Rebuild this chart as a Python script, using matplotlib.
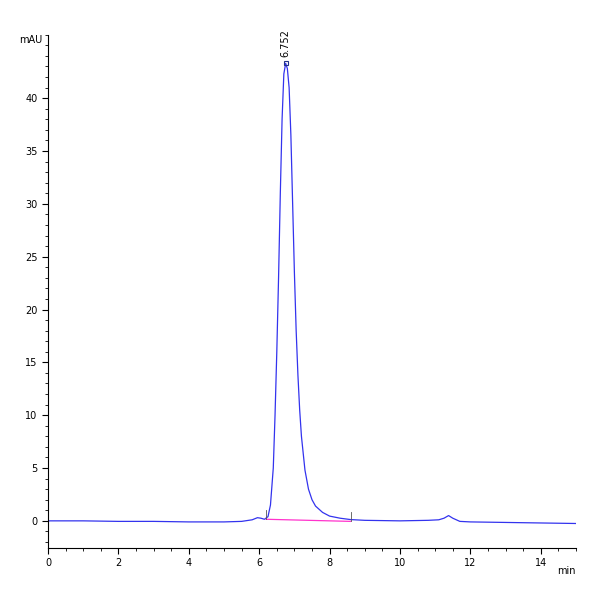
import matplotlib
matplotlib.use("Agg")
import matplotlib.pyplot as plt
from matplotlib.ticker import MultipleLocator

time = [0, 1, 2, 3, 4, 5, 5.5, 5.8, 5.95, 6.05, 6.15, 6.25, 6.32, 6.4, 6.45, 6.5, 6.55, 6.6, 6.65, 6.7, 6.752,
        6.8, 6.85, 6.9, 6.95, 7.0, 7.05, 7.1, 7.15, 7.2, 7.3, 7.4, 7.5, 7.6, 7.8, 8.0, 8.3, 8.6, 9, 10, 10.8,
        11.1, 11.25, 11.38, 11.5, 11.7, 12, 13, 14, 15]
signal = [0.0, 0.0, -0.05, -0.05, -0.1, -0.1, -0.05, 0.1, 0.3, 0.25, 0.15, 0.4, 1.5, 5, 10, 16, 23, 31, 38, 42.3, 43.3,
          42.8, 41, 36.5, 30, 23.5, 18, 13.8, 10.5, 8, 4.8, 3.0, 2.0, 1.4, 0.8, 0.45, 0.25, 0.12, 0.05, 0.0, 0.05,
          0.1, 0.25, 0.5, 0.25, -0.05, -0.1, -0.15, -0.2, -0.25]
peak_t, peak_h = 6.752, 43.3
base_t = [6.2, 8.6]
base_v = [0.15, -0.05]

fig = plt.figure(figsize=(6, 6), dpi=100)
ax = fig.add_axes([0.08, 0.087, 0.88, 0.855])
ax.plot(time, signal, color="#3333ee", lw=0.9)
ax.plot(base_t, base_v, color="#ff33cc", lw=0.9)
ax.plot([peak_t], [peak_h], marker="s", ms=3, mfc="none", mec="#223388", mew=0.8)
for bt, bv in zip(base_t, base_v):
    ax.plot([bt, bt], [bv, bv + 0.9], color="#555555", lw=0.6)
ax.text(peak_t, peak_h + 0.6, f"{peak_t:.3f}", rotation=90, ha="center", va="bottom", fontsize=7)
ax.set_xlim(0, 15)
ax.set_ylim(-2.55, 46)
ax.xaxis.set_major_locator(MultipleLocator(2))
ax.xaxis.set_minor_locator(MultipleLocator(0.5))
ax.yaxis.set_major_locator(MultipleLocator(5))
ax.yaxis.set_minor_locator(MultipleLocator(1))
ax.tick_params(labelsize=7, direction="out", length=4, width=0.8)
ax.tick_params(which="minor", length=2.5, width=0.6)
for s in ["top", "right"]:
    ax.spines[s].set_visible(False)
ax.set_yticks(range(0, 45, 5))
ax.text(-0.01, 1.0, "mAU", transform=ax.transAxes, ha="right", va="top", fontsize=7)
ax.text(1.0, -0.035, "min", transform=ax.transAxes, ha="right", va="top", fontsize=7)
fig.savefig("out.png", dpi=100)
